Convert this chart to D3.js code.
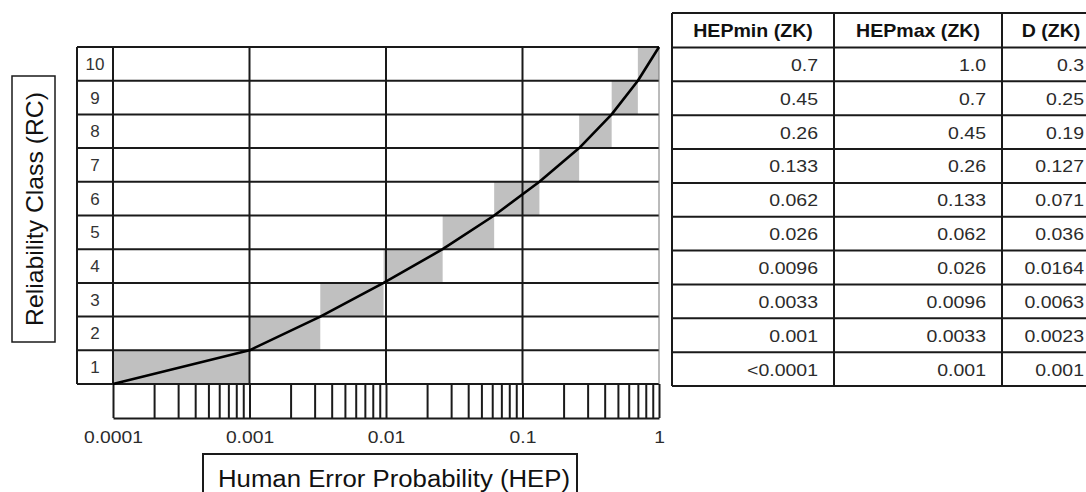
<!DOCTYPE html>
<html>
<head>
<meta charset="utf-8">
<script src="https://cdn.jsdelivr.net/npm/d3@7"></script>
<style>
  html, body { margin: 0; padding: 0; background: #fff; }
  svg { display: block; font-family: "Liberation Sans", Arial, sans-serif; }
</style>
</head>
<body>
<svg id="chart" width="1086" height="492"></svg>
<script>
// reliability classes 1..10 and their HEP ranges
const classes = [1, 2, 3, 4, 5, 6, 7, 8, 9, 10];
const hepMin = [0.0001, 0.001, 0.0033, 0.0096, 0.026, 0.062, 0.133, 0.26, 0.45, 0.7];
const hepMax = [0.001, 0.0033, 0.0096, 0.026, 0.062, 0.133, 0.26, 0.45, 0.7, 1.0];

// x axis labels
const tickValues = [0.0001, 0.001, 0.01, 0.1, 1];
const tickLabels = ["0.0001", "0.001", "0.01", "0.1", "1"];

// table (rows from RC 10 down to RC 1)
const tableHeaders = ["HEPmin (ZK)", "HEPmax (ZK)", "D (ZK)"];
const hepMinLabels = ["0.7", "0.45", "0.26", "0.133", "0.062", "0.026", "0.0096", "0.0033", "0.001", "<0.0001"];
const hepMaxLabels = ["1.0", "0.7", "0.45", "0.26", "0.133", "0.062", "0.026", "0.0096", "0.0033", "0.001"];
const dLabels = ["0.3", "0.25", "0.19", "0.127", "0.071", "0.036", "0.0164", "0.0063", "0.0023", "0.001"];

const svg = d3.select("#chart");
const ink = "#1a1a1a";
const textCol = "#2b2b2b";

// --- chart ---
const labelLeft = 77;
const x = d3.scaleLog().domain([0.0001, 1]).range([113, 659]);
const y = d3.scaleLinear().domain([0, 10]).range([384, 47]);
const stripBottom = 418;

// shaded class ranges
svg.append("g")
  .selectAll("rect")
  .data(classes)
  .enter()
  .append("rect")
  .attr("x", (d, i) => x(hepMin[i]))
  .attr("width", (d, i) => x(hepMax[i]) - x(hepMin[i]))
  .attr("y", d => y(d))
  .attr("height", d => y(d - 1) - y(d))
  .attr("fill", "#c0c0c0");

const grid = svg.append("g").attr("stroke", ink).attr("stroke-width", 2);

// horizontal row lines
grid.selectAll(".row")
  .data(d3.range(0, 11))
  .enter()
  .append("line")
  .attr("x1", labelLeft)
  .attr("x2", x(1))
  .attr("y1", d => y(d))
  .attr("y2", d => y(d));

// left border
grid.append("line")
  .attr("x1", labelLeft).attr("x2", labelLeft)
  .attr("y1", y(10)).attr("y2", y(0));

// decade lines
grid.selectAll(".dec")
  .data(tickValues.slice(0, 4))
  .enter()
  .append("line")
  .attr("x1", d => x(d)).attr("x2", d => x(d))
  .attr("y1", y(10)).attr("y2", y(0));

// right border (thin)
svg.append("line")
  .attr("x1", x(1)).attr("x2", x(1))
  .attr("y1", y(10)).attr("y2", y(0))
  .attr("stroke", "#777").attr("stroke-width", 1);

// log tick strip
const axis = d3.axisBottom(x)
  .tickValues(x.ticks())
  .tickSize(-(stripBottom - y(0)))
  .tickSizeOuter(0)
  .tickFormat(d => {
    const k = tickValues.indexOf(d);
    return k >= 0 ? tickLabels[k] : "";
  });

const axisG = svg.append("g")
  .attr("transform", `translate(0,${stripBottom})`)
  .call(axis);

axisG.select(".domain").attr("stroke", ink).attr("stroke-width", 2);
axisG.selectAll(".tick line").attr("stroke", ink).attr("stroke-width", 2);
axisG.selectAll(".tick text")
  .attr("y", 0)
  .attr("dy", null)
  .attr("fill", textCol)
  .attr("font-size", "16.5px")
  .attr("font-family", "'Liberation Sans', Arial, sans-serif")
  .attr("transform", "translate(0,25) scale(1.17,1)");

// row labels
svg.append("g")
  .selectAll("text")
  .data(classes)
  .enter()
  .append("text")
  .attr("x", (labelLeft + x(0.0001)) / 2)
  .attr("y", d => (y(d) + y(d - 1)) / 2 + 6)
  .attr("text-anchor", "middle")
  .attr("font-size", "17px")
  .attr("fill", "#333")
  .text(d => d);

// curve through class boundaries
const curvePts = [[hepMin[0], 0]].concat(classes.map((c, i) => [hepMax[i], c]));
svg.append("path")
  .datum(curvePts)
  .attr("fill", "none")
  .attr("stroke", "#000")
  .attr("stroke-width", 2.6)
  .attr("stroke-linejoin", "round")
  .attr("d", d3.line().x(d => x(d[0])).y(d => y(d[1])));

// y axis title box
svg.append("rect")
  .attr("x", 12).attr("y", 76).attr("width", 43).attr("height", 266)
  .attr("fill", "none").attr("stroke", ink).attr("stroke-width", 1.5);
svg.append("text")
  .attr("transform", "translate(42.5,209) rotate(-90)")
  .attr("text-anchor", "middle")
  .attr("font-size", "24px")
  .attr("fill", "#111")
  .attr("textLength", 234)
  .attr("lengthAdjust", "spacingAndGlyphs")
  .text("Reliability Class (RC)");

// x axis title box
svg.append("rect")
  .attr("x", 203).attr("y", 454).attr("width", 374).attr("height", 60)
  .attr("fill", "none").attr("stroke", ink).attr("stroke-width", 2);
svg.append("text")
  .attr("x", 394).attr("y", 487)
  .attr("text-anchor", "middle")
  .attr("font-size", "23px")
  .attr("fill", "#111")
  .attr("textLength", 352)
  .attr("lengthAdjust", "spacingAndGlyphs")
  .text("Human Error Probability (HEP)");

// --- table ---
const colX = [672, 834, 1002, 1100];
const tableTop = 13;
const ty = d3.scaleLinear().domain([0, 10]).range([47.5, 386]);
const columns = [hepMinLabels, hepMaxLabels, dLabels];

const tbl = svg.append("g");

// header
tbl.selectAll(".hdr")
  .data(tableHeaders)
  .enter()
  .append("text")
  .attr("transform", (d, i) => `translate(${(colX[i] + colX[i + 1]) / 2},${(tableTop + ty(0)) / 2 + 7}) scale(1.1,1)`)
  .attr("text-anchor", "middle")
  .attr("font-size", "17.8px")
  .attr("font-weight", "bold")
  .attr("fill", "#111")
  .text(d => d);

// values
columns.forEach((col, ci) => {
  tbl.append("g")
    .selectAll("text")
    .data(col)
    .enter()
    .append("text")
    .attr("transform", (d, i) => `translate(${colX[ci + 1] - 16},${(ty(i) + ty(i + 1)) / 2 + 6.5}) scale(1.16,1)`)
    .attr("text-anchor", "end")
    .attr("font-size", "16.8px")
    .attr("fill", textCol)
    .text(d => d);
});

// table lines
const tlines = tbl.append("g").attr("stroke", ink).attr("stroke-width", 2);
tlines.selectAll(".h")
  .data([tableTop].concat(d3.range(0, 11).map(ty)))
  .enter()
  .append("line")
  .attr("x1", colX[0]).attr("x2", colX[3])
  .attr("y1", d => d).attr("y2", d => d);
tlines.selectAll(".v")
  .data(colX)
  .enter()
  .append("line")
  .attr("x1", d => d).attr("x2", d => d)
  .attr("y1", tableTop).attr("y2", ty(10));
</script>
</body>
</html>
